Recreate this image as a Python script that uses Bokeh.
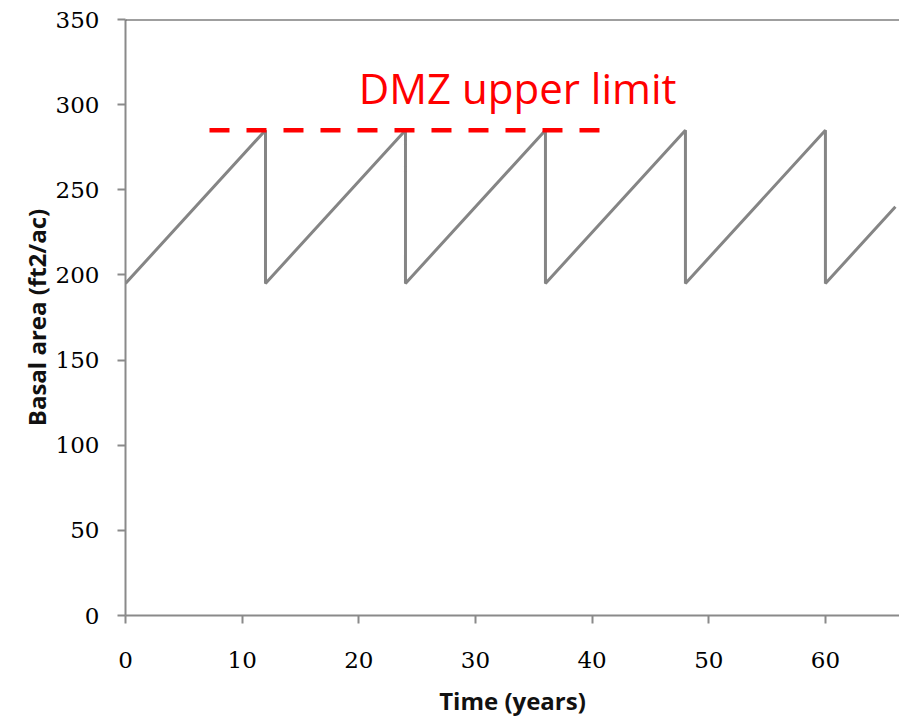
from bokeh.plotting import figure
from bokeh.models import Range1d, Span, Label, FixedTicker
from bokeh.embed import file_html
from bokeh.resources import INLINE

# Data
time_years = [0, 12, 12, 24, 24, 36, 36, 48, 48, 60, 60, 66]
basal_area = [195, 285, 195, 285, 195, 285, 195, 285, 195, 285, 195, 240]
limit_x = [7.2, 40.8]
limit_y = [285, 285]
limit_label = "DMZ upper limit"
label_pos = (20.0, 310.0)
x_ticks = [0, 10, 20, 30, 40, 50, 60]
y_ticks = [0, 50, 100, 150, 200, 250, 300, 350]

p = figure(width=899, height=719, output_backend="svg", toolbar_location=None,
           x_range=Range1d(0, 66.35), y_range=Range1d(0, 350),
           min_border_left=125, min_border_right=0, min_border_top=19, min_border_bottom=103)
p.grid.visible = False
p.outline_line_color = None
p.background_fill_color = "white"
p.border_fill_color = "white"

p.line(time_years, basal_area, line_color="#858585", line_width=3)
p.line(limit_x, limit_y, line_color="#ff0000", line_width=4.5, line_dash="20 17")

p.add_layout(Span(location=350, dimension="width", line_color="#404040", line_width=2))

p.add_layout(Label(x=label_pos[0], y=label_pos[1], text=limit_label,
                   text_color="#ff0000", text_font="Open Sans", text_font_size="42px",
                   text_baseline="alphabetic", text_align="left"))

for ax in (p.xaxis[0], p.yaxis[0]):
    ax.axis_line_color = "#8a8a8a"
    ax.axis_line_width = 2
    ax.major_tick_line_color = "#8a8a8a"
    ax.major_tick_line_width = 2
    ax.major_tick_out = 8
    ax.major_tick_in = 0
    ax.minor_tick_line_color = None
    ax.major_label_text_font = "DejaVu Serif"
    ax.major_label_text_font_size = "23px"
    ax.major_label_text_color = "#000000"
    ax.axis_label_text_font = "Open Sans"
    ax.axis_label_text_font_style = "bold"
    ax.axis_label_text_color = "#111111"

p.xaxis.axis_label_text_font_size = "24px"
p.yaxis.axis_label_text_font_size = "24px"
p.xaxis.ticker = FixedTicker(ticks=x_ticks)
p.yaxis.ticker = FixedTicker(ticks=y_ticks)
p.xaxis.axis_label = "Time (years)"
p.yaxis.axis_label = "Basal area (ft2/ac)"
p.xaxis.major_label_standoff = 28
p.yaxis.major_label_standoff = 18
p.xaxis.axis_label_standoff = 13
p.yaxis.axis_label_standoff = 0

open("out.html", "w").write(file_html(p, INLINE))
